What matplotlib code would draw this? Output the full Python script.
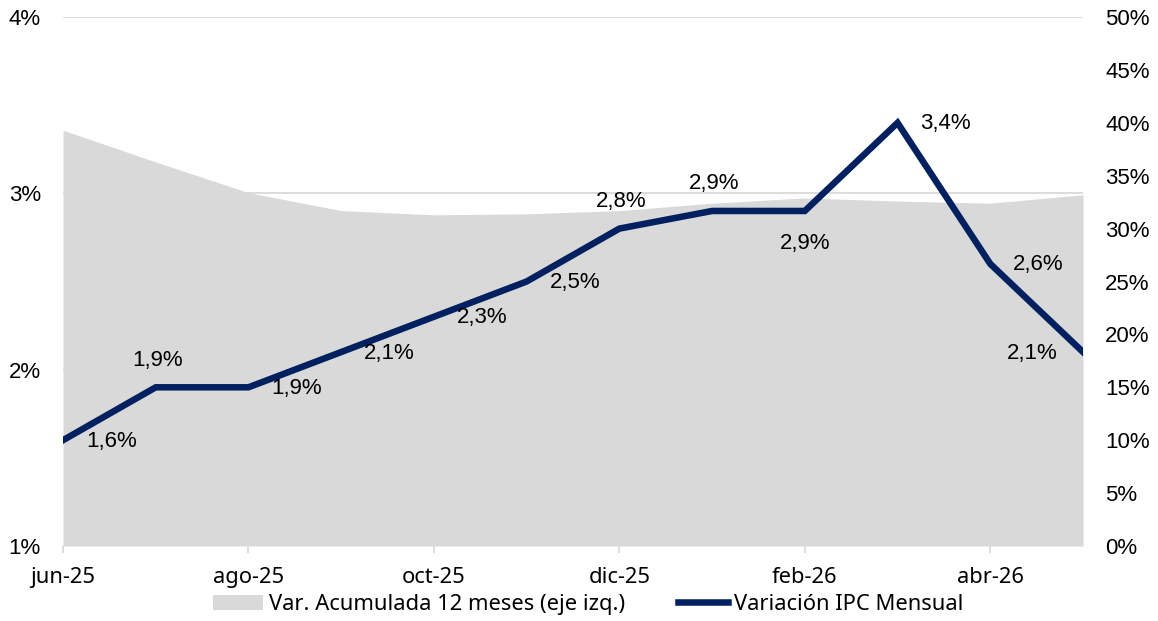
import matplotlib
matplotlib.use("Agg")
import matplotlib.pyplot as plt
from matplotlib.patches import Patch
from matplotlib.lines import Line2D
from matplotlib.ticker import FuncFormatter

months = ["jun-25", "jul-25", "ago-25", "sep-25", "oct-25", "nov-25",
          "dic-25", "ene-26", "feb-26", "mar-26", "abr-26", "may-26"]
ipc_mensual = [1.6, 1.9, 1.9, 2.1, 2.3, 2.5, 2.8, 2.9, 2.9, 3.4, 2.6, 2.1]
acum_12m = [39.3, 36.3, 33.4, 31.7, 31.3, 31.4, 31.7, 32.4, 32.9, 32.6, 32.4, 33.2]
label_pos = ["r", "a", "r", "r", "r", "r", "a", "a", "b", "r", "r", "l"]
legend_labels = ["Var. Acumulada 12 meses (eje izq.)", "Variación IPC Mensual"]

NAVY = "#002060"
GREY = "#d9d9d9"
NUMFONT = "Liberation Sans"
TXTFONT = "Noto Sans"

W, H = 1158, 621
fig = plt.figure(figsize=(W / 100, H / 100), dpi=100)
fig.subplots_adjust(left=63 / W, right=1083 / W, top=1 - 17 / H, bottom=1 - 546 / H)

ax1 = fig.add_subplot(111)
x = list(range(len(months)))
ax1.set_xlim(0, len(months) - 1)
ax1.set_ylim(1, 4)
ax1.set_yticks([1, 2, 3, 4])
ax1.yaxis.set_major_formatter(FuncFormatter(lambda v, p: f"{v:.0f}%"))
ax1.grid(axis="y", color=GREY, lw=1.3)
ax1.set_axisbelow(True)
for s in ax1.spines.values():
    s.set_visible(False)
ax1.tick_params(axis="y", length=0, pad=16, labelsize=16)
ax1.set_xticks(x[::2])
ax1.set_xticklabels(months[::2])
ax1.tick_params(axis="x", length=5, color=GREY, width=1.3, pad=10, labelsize=15.8)
for t in ax1.get_yticklabels():
    t.set_fontfamily(NUMFONT)
for t in ax1.get_xticklabels():
    t.set_fontfamily(TXTFONT)

ax2 = ax1.twinx()
ax2.set_ylim(0, 50)
ax2.set_yticks(range(0, 55, 5))
ax2.yaxis.set_major_formatter(FuncFormatter(lambda v, p: f"{v:.0f}%"))
ax2.fill_between(x, 0, acum_12m, color=GREY, lw=0)
for s in ax2.spines.values():
    s.set_visible(False)
ax2.tick_params(axis="y", length=0, pad=16, labelsize=16)
for t in ax2.get_yticklabels():
    t.set_fontfamily(NUMFONT)

ax3 = ax1.twinx()
ax3.set_ylim(1, 4)
ax3.set_yticks([])
for s in ax3.spines.values():
    s.set_visible(False)
ax3.plot(x, ipc_mensual, color=NAVY, lw=4.7, solid_joinstyle="miter")

px = 72 / 100
for xi, v, pos in zip(x, ipc_mensual, label_pos):
    txt = f"{v:.1f}%".replace(".", ",")
    if pos == "r":
        off, ha, va = (23 * px, -1 * px), "left", "center"
    elif pos == "l":
        off, ha, va = (-25 * px, -1 * px), "right", "center"
    elif pos == "a":
        off, ha, va = (2 * px, 27 * px), "center", "center"
    else:
        off, ha, va = (0, -33 * px), "center", "center"
    ax3.annotate(txt, (xi, v), xytext=off, textcoords="offset points",
                 ha=ha, va=va, fontsize=16, family=NUMFONT, color="#000000")

handles = [Patch(facecolor=GREY, edgecolor="none"),
           Line2D([0], [0], color=NAVY, lw=4.7)]
fig.legend(handles, legend_labels, loc="lower center", bbox_to_anchor=(588 / W, -0.022),
           ncol=2, frameon=False, prop={"family": TXTFONT, "size": 15.8},
           handlelength=2.3, handletextpad=0.25, columnspacing=2.4)

fig.savefig("out.png", dpi=100, facecolor="white")
